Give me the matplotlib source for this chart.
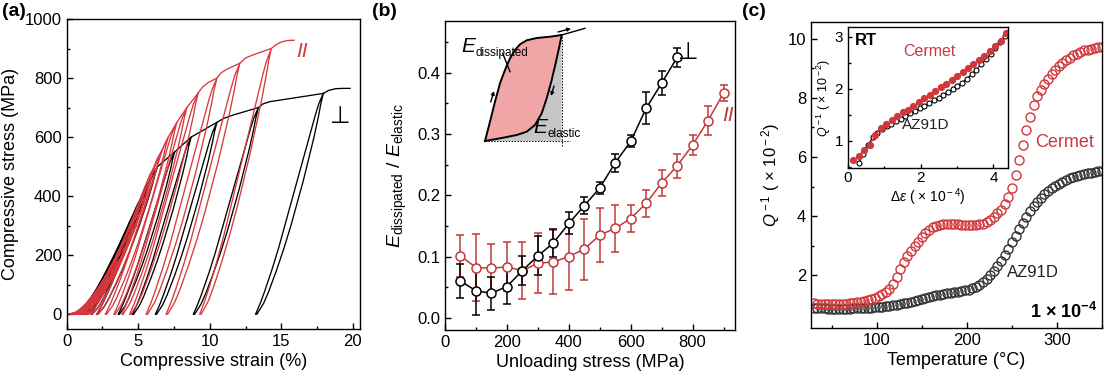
import numpy as np
import matplotlib.pyplot as plt
from matplotlib.ticker import MultipleLocator

plt.rcParams['font.family'] = ['Liberation Sans', 'DejaVu Sans']
plt.rcParams['mathtext.fontset'] = 'custom'
plt.rcParams['mathtext.rm'] = 'Liberation Sans'
plt.rcParams['mathtext.it'] = 'Liberation Sans:italic'
plt.rcParams['mathtext.bf'] = 'Liberation Sans:bold'
plt.rcParams['axes.linewidth'] = 1.0

RED_A = '#d8383e'
RED_B = '#c0393b'
RED_C = '#d0383c'

# ---------------- (a) cyclic compression ----------------
# peak stress (MPa) of every loading cycle
par_peak_stress = [50, 100, 150, 200, 250, 300, 350, 400, 450, 500, 550, 600, 650, 700, 750, 800, 850, 900]
par_peak_strain = [2.2, 2.9, 3.5, 4.0, 4.45, 4.85, 5.2, 5.55, 5.85, 6.15, 6.6, 7.1, 7.7, 8.4, 9.2, 10.5, 12.1, 14.3]
par_resid_strain = [0.3, 0.4, 0.5, 0.6, 0.75, 0.9, 1.05, 1.25, 1.45, 1.7, 2.1, 2.7, 3.3, 3.85, 4.4, 5.55, 6.95, 9.3]
par_env_strain = [0, 1.0, 1.6, 2.2, 2.9, 3.5, 4.0, 4.45, 4.85, 5.2, 5.55, 5.85, 6.15, 6.6, 7.1, 7.7, 8.4, 9.2,
                  9.5, 9.9, 10.5, 10.8, 11.2, 12.1, 12.5, 13.0, 14.3, 14.6, 15.0, 15.4, 15.9]
par_env_stress = [0, 8, 20, 50, 100, 150, 200, 250, 300, 350, 400, 450, 500, 550, 600, 650, 700, 750,
                  770, 785, 800, 818, 830, 850, 868, 878, 900, 912, 922, 927, 928]

perp_peak_stress = [50, 100, 150, 200, 250, 300, 350, 400, 450, 500, 550, 600, 650, 700, 750]
perp_peak_strain = [2.3, 3.0, 3.45, 3.75, 4.1, 4.45, 4.85, 5.3, 5.75, 6.35, 7.55, 8.7, 10.5, 13.4, 17.95]
perp_resid_strain = [0.3, 0.5, 0.6, 0.7, 0.85, 1.0, 1.2, 1.4, 1.7, 2.1, 3.6, 4.6, 6.2, 8.85, 13.2]
perp_env_strain = [0, 1.0, 1.7, 2.3, 3.0, 3.45, 3.75, 4.1, 4.45, 4.85, 5.3, 5.75, 6.35, 7.55, 8.7, 10.5,
                   11.0, 11.65, 13.4, 13.7, 14.2, 17.95, 18.3, 18.8, 19.3, 19.8]
perp_env_stress = [0, 7, 20, 50, 100, 150, 200, 250, 300, 350, 400, 450, 500, 550, 600, 650,
                   664, 675, 700, 712, 720, 748, 758, 764, 765, 765]

# normalised loop shape (stress fraction -> strain fraction), read from the largest loop
loop_s = [0, 0.05, 0.1, 0.2, 0.3, 0.4, 0.5, 0.6, 0.7, 0.8, 0.9, 0.95, 1.0]
loop_load = [0, 0.07, 0.13, 0.24, 0.34, 0.43, 0.52, 0.61, 0.70, 0.79, 0.88, 0.93, 1.0]
loop_unload = [0.02, 0.12, 0.19, 0.31, 0.42, 0.52, 0.61, 0.70, 0.78, 0.86, 0.93, 0.96, 1.0]

# ---------------- (b) energy ratio ----------------
perp_x = [50, 100, 150, 200, 250, 300, 350, 400, 450, 500, 550, 600, 650, 700, 750]
perp_y = [0.060, 0.044, 0.040, 0.051, 0.077, 0.101, 0.122, 0.154, 0.183, 0.212, 0.253, 0.288, 0.342, 0.383, 0.425]
perp_err = [0.028, 0.040, 0.027, 0.028, 0.024, 0.032, 0.023, 0.018, 0.014, 0.010, 0.015, 0.010, 0.026, 0.020, 0.015]
par_x = [50, 100, 150, 200, 250, 300, 350, 400, 450, 500, 550, 600, 650, 700, 750, 800, 850, 900]
par_y = [0.101, 0.082, 0.081, 0.083, 0.077, 0.089, 0.091, 0.100, 0.112, 0.135, 0.146, 0.162, 0.187, 0.220,
         0.248, 0.282, 0.322, 0.367]
par_err = [0.034, 0.055, 0.040, 0.040, 0.047, 0.049, 0.053, 0.055, 0.050, 0.044, 0.038, 0.022, 0.022, 0.021,
           0.020, 0.016, 0.024, 0.013]

# schematic loop of the inset (arbitrary units)
sch_up_x = [0, 5, 10, 15, 20, 25, 30, 35, 41.7, 51.7, 65, 76.7]
sch_up_y = [0, 19.3, 39.3, 57.7, 71, 82.7, 91, 96.7, 100.7, 103, 104.3, 106]
sch_tail_x = [76.7, 100]
sch_tail_y = [106, 112.7]
sch_dn_x = [0, 18.3, 31.7, 41.7, 50, 56.7, 61.7, 66.7, 71, 74.3, 76.7]
sch_dn_y = [0, 3.3, 6, 9.3, 16, 27.7, 42.7, 61, 79.3, 94.3, 106]

# ---------------- (c) internal friction ----------------
temp = [30, 34, 38, 42, 46, 50, 54, 58, 62, 66, 70, 74, 78, 82, 86, 90, 94, 98, 102, 106,
        110, 114, 118, 122, 126, 130, 134, 138, 142, 146, 150, 154, 158, 162, 166, 170, 174, 178, 182, 186,
        190, 194, 198, 202, 206, 210, 214, 218, 222, 226, 230, 234, 238, 242, 246, 250, 254, 258, 262, 266,
        270, 274, 278, 282, 286, 290, 294, 298, 302, 306, 310, 314, 318, 322, 326, 330, 334, 338, 342, 346, 350]
q_cermet = [1.05, 1.04, 1.03, 1.02, 1.02, 1.02, 1.02, 1.03, 1.03, 1.04, 1.05, 1.07, 1.09, 1.11, 1.14, 1.17,
            1.21, 1.25, 1.31, 1.37, 1.45, 1.55, 1.72, 1.95, 2.2, 2.45, 2.65, 2.82, 2.98, 3.14, 3.3, 3.42,
            3.53, 3.62, 3.67, 3.7, 3.73, 3.74, 3.74, 3.73, 3.72, 3.71, 3.7, 3.7, 3.7, 3.7, 3.72, 3.75,
            3.8, 3.88, 3.98, 4.1, 4.22, 4.4, 4.65, 4.95, 5.4, 5.9, 6.4, 6.9, 7.35, 7.75, 8.05, 8.25,
            8.45, 8.65, 8.8, 8.95, 9.06, 9.18, 9.28, 9.36, 9.43, 9.48, 9.55, 9.6, 9.63, 9.66, 9.68, 9.7, 9.72]
q_az91d = [0.9, 0.89, 0.88, 0.88, 0.87, 0.87, 0.87, 0.87, 0.87, 0.87, 0.87, 0.88, 0.88, 0.89, 0.9, 0.9,
           0.91, 0.92, 0.93, 0.94, 0.96, 0.97, 0.99, 1.0, 1.02, 1.05, 1.08, 1.11, 1.14, 1.17, 1.2, 1.24,
           1.27, 1.3, 1.33, 1.35, 1.37, 1.39, 1.41, 1.43, 1.45, 1.47, 1.49, 1.52, 1.56, 1.61, 1.68, 1.77,
           1.88, 2.0, 2.14, 2.3, 2.48, 2.68, 2.9, 3.12, 3.34, 3.56, 3.77, 3.97, 4.16, 4.33, 4.48, 4.62,
           4.74, 4.85, 4.94, 5.02, 5.1, 5.17, 5.23, 5.28, 5.32, 5.36, 5.39, 5.42, 5.45, 5.47, 5.49, 5.51, 5.53]

# inset: amplitude dependence at room temperature
rt_cer_de = [0.15, 0.3, 0.45, 0.6, 0.75, 0.9, 1.05, 1.2, 1.35, 1.5, 1.65, 1.8, 1.95, 2.1, 2.25, 2.4, 2.55,
             2.7, 2.85, 3.0, 3.15, 3.3, 3.45, 3.6, 3.75, 3.9, 4.05, 4.2, 4.35]
rt_cer_q = [0.63, 0.71, 0.82, 0.92, 1.12, 1.25, 1.32, 1.4, 1.48, 1.55, 1.6, 1.67, 1.74, 1.82, 1.89, 1.96,
            2.03, 2.1, 2.18, 2.25, 2.33, 2.4, 2.48, 2.56, 2.64, 2.73, 2.82, 2.93, 3.07]
rt_az_de = [0.3, 0.42, 0.55, 0.68, 0.8, 0.93, 1.06, 1.19, 1.32, 1.45, 1.58, 1.71, 1.84, 1.97, 2.1, 2.23,
            2.36, 2.49, 2.62, 2.75, 2.88, 3.01, 3.14, 3.27, 3.4, 3.53, 3.66, 3.79, 3.92, 4.05, 4.18, 4.31]
rt_az_q = [0.58, 0.75, 0.92, 1.07, 1.15, 1.22, 1.28, 1.33, 1.38, 1.43, 1.48, 1.53, 1.58, 1.63, 1.68, 1.73,
           1.78, 1.83, 1.88, 1.94, 2.0, 2.06, 2.12, 2.2, 2.28, 2.37, 2.47, 2.57, 2.67, 2.78, 2.9, 3.02]

W, H = 1104, 376
fig = plt.figure(figsize=(W / 100, H / 100), dpi=100)


def px_axes(left, top, right, bottom):
    return fig.add_axes([left / W, 1 - bottom / H, (right - left) / W, (bottom - top) / H])


def style(ax, fs=11):
    ax.tick_params(which='both', direction='in', labelsize=fs, top=False, right=False)
    ax.tick_params(which='major', length=4, width=1.0)
    ax.tick_params(which='minor', length=2.5, width=1.0)


def draw_loops(ax, peak_s, peak_e, resid, color):
    s = np.array(loop_s)
    for ps, pe, r in zip(peak_s, peak_e, resid):
        span = pe - r
        x = np.concatenate([r + np.array(loop_load) * span, (r + np.array(loop_unload) * span)[::-1]])
        y = np.concatenate([s * ps, (s * ps)[::-1]])
        ax.plot(x, y, color=color, lw=0.95)


# (a)
ax1 = px_axes(66.7, 19, 360, 329)
draw_loops(ax1, perp_peak_stress, perp_peak_strain, perp_resid_strain, 'black')
ax1.plot(perp_env_strain, perp_env_stress, color='black', lw=0.95)
draw_loops(ax1, par_peak_stress, par_peak_strain, par_resid_strain, RED_A)
ax1.plot(par_env_strain, par_env_stress, color=RED_A, lw=0.95)
ax1.set_xlim(0, 20.5)
ax1.set_ylim(-50, 1000)
ax1.xaxis.set_major_locator(MultipleLocator(5))
ax1.xaxis.set_minor_locator(MultipleLocator(2.5))
ax1.yaxis.set_major_locator(MultipleLocator(200))
ax1.yaxis.set_minor_locator(MultipleLocator(100))
style(ax1, 12)
ax1.set_xlabel('Compressive strain (%)', fontsize=13, labelpad=3)
ax1.set_ylabel('Compressive stress (MPa)', fontsize=13, labelpad=4)
ax1.text(16.45, 889, 'II', color=RED_A, fontsize=15, style='italic', ha='center', va='center')
ax1.text(19.1, 668, '\u22a5', color='black', fontsize=17, ha='center', va='center')
fig.text(2 / W, 1 - 12 / H, '(a)', fontsize=14, fontweight='bold', va='center')

# (b)
ax2 = px_axes(445, 20.7, 735, 330)
ax2.errorbar(par_x, par_y, yerr=par_err, color=RED_B, marker='o', ms=6.5, mfc='white', mec=RED_B,
             mew=1.1, lw=1.1, capsize=2.8, elinewidth=1.1, capthick=1.1)
ax2.errorbar(perp_x, perp_y, yerr=perp_err, color='black', marker='o', ms=6.5, mfc='white', mec='black',
             mew=1.1, lw=1.1, capsize=2.8, elinewidth=1.1, capthick=1.1)
ax2.set_xlim(0, 937)
ax2.set_ylim(-0.02, 0.485)
ax2.xaxis.set_major_locator(MultipleLocator(200))
ax2.xaxis.set_minor_locator(MultipleLocator(100))
ax2.yaxis.set_major_locator(MultipleLocator(0.1))
ax2.yaxis.set_minor_locator(MultipleLocator(0.05))
style(ax2, 12)
ax2.set_xlabel('Unloading stress (MPa)', fontsize=13, labelpad=3)
ax2.set_ylabel(r'$E_{\rm dissipated}$ / $E_{\rm elastic}$', fontsize=14, labelpad=6)
ax2.text(785, 0.432, '\u22a5', color='black', fontsize=17, ha='center', va='center')
ax2.text(915, 0.331, 'II', color=RED_B, fontsize=15, style='italic', ha='center', va='center')
fig.text(372 / W, 1 - 12 / H, '(b)', fontsize=14, fontweight='bold', va='center')

# (b) schematic inset
axs = px_axes(455, 20, 600, 150)
axs.set_xlim(-30, 115)
axs.set_ylim(-9, 121)
axs.axis('off')
gray_x = list(sch_dn_x) + [sch_dn_x[-1], 0]
gray_y = list(sch_dn_y) + [0, 0]
axs.fill(gray_x, gray_y, color='#c6c6c6', lw=0)
pink_x = list(sch_up_x) + list(sch_dn_x[::-1])
pink_y = list(sch_up_y) + list(sch_dn_y[::-1])
axs.fill(pink_x, pink_y, color='#f0a6a6', lw=0)
axs.plot(sch_up_x, sch_up_y, color='black', lw=1.4)
axs.plot(sch_tail_x, sch_tail_y, color='black', lw=1.0)
axs.plot(sch_dn_x, sch_dn_y, color='black', lw=1.4)
axs.plot([0, 85], [0, 0], color='black', lw=0.7, ls=(0, (1.5, 1.5)))
axs.plot([76.7, 76.7], [-5, 106], color='black', lw=0.7, ls=(0, (1.5, 1.5)))
arrow_kw = dict(arrowstyle='-|>', color='black', lw=1.0, mutation_scale=5, shrinkA=0, shrinkB=0)
axs.annotate('', xy=(9, 50), xytext=(5.7, 39), arrowprops=arrow_kw)
axs.annotate('', xy=(66, 45), xytext=(69, 55), arrowprops=arrow_kw)
axs.annotate('', xy=(86, 112.5), xytext=(73, 109), arrowprops=arrow_kw)
axs.plot([17.7, 25], [87.7, 69.3], color='black', lw=1.0)
axs.text(-24, 89, r'$E$', fontsize=15, ha='left', va='baseline')
axs.text(-9.5, 85, 'dissipated', fontsize=8.5, ha='left', va='baseline')
axs.text(48, 8, r'$E$', fontsize=15, ha='left', va='baseline')
axs.text(62.5, 4, 'elastic', fontsize=8.5, ha='left', va='baseline')

# (c)
ax3 = px_axes(811, 22, 1102, 328)
ax3.plot(temp, q_az91d, ls='none', marker='o', ms=6.5, mfc='none', mec='#333333', mew=1.0)
ax3.plot(temp, q_cermet, ls='none', marker='o', ms=6.5, mfc='none', mec=RED_C, mew=1.0)
ax3.set_xlim(27, 350)
ax3.set_ylim(0.22, 10.56)
ax3.xaxis.set_major_locator(MultipleLocator(100))
ax3.xaxis.set_minor_locator(MultipleLocator(50))
ax3.yaxis.set_major_locator(MultipleLocator(2))
ax3.yaxis.set_minor_locator(MultipleLocator(1))
style(ax3, 12)
ax3.set_xlabel('Temperature (\u00b0C)', fontsize=13, labelpad=3)
ax3.set_ylabel('$Q^{\\rm -1}$ ( \u00d7 10$^{\\rm -2}$)', fontsize=12, labelpad=4)
ax3.text(309, 6.5, 'Cermet', color=RED_C, fontsize=13, ha='center', va='center')
ax3.text(273, 2.1, 'AZ91D', color='#222222', fontsize=12, ha='center', va='center')
ax3.text(345, 0.75, '1 \u00d7 10$^{\\mathbf{-4}}$', fontsize=13, fontweight='bold',
         ha='right', va='center')
fig.text(742 / W, 1 - 12 / H, '(c)', fontsize=14, fontweight='bold', va='center')

# (c) inset
ax4 = px_axes(848, 27, 1008, 168)
ax4.plot(rt_az_de, rt_az_q, color='black', lw=0.8, marker='o', ms=3.6, mfc='white', mec='black', mew=0.8)
ax4.plot(rt_cer_de, rt_cer_q, color=RED_C, lw=0.8, marker='o', ms=4.2, mfc=RED_C, mec=RED_C)
ax4.set_xlim(0, 4.4)
ax4.set_ylim(0.48, 3.19)
ax4.xaxis.set_major_locator(MultipleLocator(2))
ax4.xaxis.set_minor_locator(MultipleLocator(1))
ax4.yaxis.set_major_locator(MultipleLocator(1))
ax4.yaxis.set_minor_locator(MultipleLocator(0.5))
style(ax4, 11)
ax4.tick_params(which='major', length=3)
ax4.tick_params(which='minor', length=1.8)
ax4.tick_params(axis='x', pad=2)
ax4.set_xlabel('$\\Delta\\varepsilon$ ( \u00d7 10$^{\\rm -4}$)', fontsize=10, labelpad=1)
ax4.set_ylabel('$Q^{\\rm -1}$ ( \u00d7 10$^{\\rm -2}$)', fontsize=9, labelpad=1)
ax4.text(0.18, 2.93, 'RT', fontsize=12, fontweight='bold', va='center')
ax4.text(2.25, 2.71, 'Cermet', color=RED_C, fontsize=11.5, ha='center', va='center')
ax4.text(2.15, 1.31, 'AZ91D', color='#222222', fontsize=11, ha='center', va='center')

fig.savefig('out.png', dpi=100)
